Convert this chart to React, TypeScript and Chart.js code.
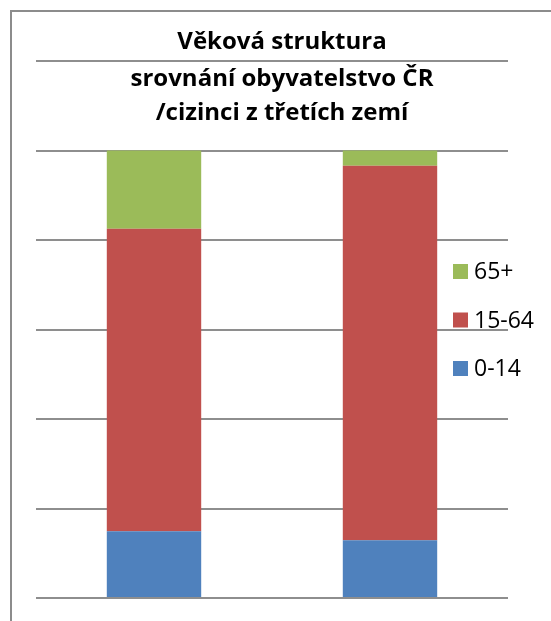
import React, { useEffect, useRef } from "react";
import { Chart, registerables } from "chart.js";

Chart.register(...registerables);

const categories = ["obyvatelstvo ČR", "cizinci z třetích zemí"];
const seriesLabels = ["0-14", "15-64", "65+"];
const values0to14 = [14.9, 12.9];
const values15to64 = [67.6, 83.7];
const values65plus = [17.5, 3.4];
const seriesColors = ["#4F81BD", "#C0504D", "#9BBB59"];
const titleLines = ["Věková struktura", "srovnání obyvatelstvo ČR", "/cizinci z třetích zemí"];
const axisMax = 120;
const axisStep = 20;

const FONT = "'Open Sans'";

const overlayPlugin = {
  id: "overlay",
  afterDraw(chart: any) {
    const ctx = chart.ctx;
    ctx.save();
    // title
    ctx.fillStyle = "#000";
    ctx.textAlign = "center";
    ctx.textBaseline = "alphabetic";
    ctx.font = `bold 24px ${FONT}`;
    const baselines = [49, 86, 120];
    titleLines.forEach((t, i) => ctx.fillText(t, 282, baselines[i]));
    // legend (reversed order)
    ctx.textAlign = "left";
    ctx.font = `23px ${FONT}`;
    const ds = chart.data.datasets;
    const n = ds.length;
    for (let k = 0; k < n; k++) {
      const d = ds[n - 1 - k];
      const top = 264 + k * 48.5;
      ctx.fillStyle = d.backgroundColor;
      ctx.fillRect(453, top, 15, 15);
      ctx.fillStyle = "#000";
      ctx.fillText(d.label, 474, top + 15);
    }
    ctx.restore();
  },
};

export default function App() {
  const ref = useRef<HTMLCanvasElement | null>(null);
  useEffect(() => {
    if (!ref.current) return;
    const chart = new Chart(ref.current, {
      type: "bar",
      data: {
        labels: categories,
        datasets: [
          { label: seriesLabels[0], data: values0to14, backgroundColor: seriesColors[0] },
          { label: seriesLabels[1], data: values15to64, backgroundColor: seriesColors[1] },
          { label: seriesLabels[2], data: values65plus, backgroundColor: seriesColors[2] },
        ],
      },
      options: {
        animation: false,
        responsive: false,
        maintainAspectRatio: false,
        layout: { padding: { left: 36, right: 43, top: 61, bottom: 23 } },
        datasets: { bar: { categoryPercentage: 1, barPercentage: 0.4, borderWidth: 0 } },
        plugins: { legend: { display: false }, title: { display: false }, tooltip: { enabled: false } },
        scales: {
          x: { stacked: true, display: false },
          y: {
            stacked: true,
            min: 0,
            max: axisMax,
            ticks: { display: false, stepSize: axisStep },
            border: { display: false },
            grid: { drawTicks: false, color: "#8e8e8e", lineWidth: 2 },
          },
        },
      },
      plugins: [overlayPlugin],
    });
    return () => chart.destroy();
  }, []);
  return (
    <div style={{ position: "fixed", left: 0, top: 0, width: 551, height: 621, background: "#fff", overflow: "hidden" }}>
      <div
        style={{
          position: "absolute",
          left: 10,
          top: 10,
          width: 700,
          height: 800,
          borderLeft: "2px solid #8c8c8c",
          borderTop: "2px solid #8c8c8c",
        }}
      />
      <canvas ref={ref} width={551} height={621} style={{ position: "absolute", left: 0, top: 0 }} />
    </div>
  );
}
